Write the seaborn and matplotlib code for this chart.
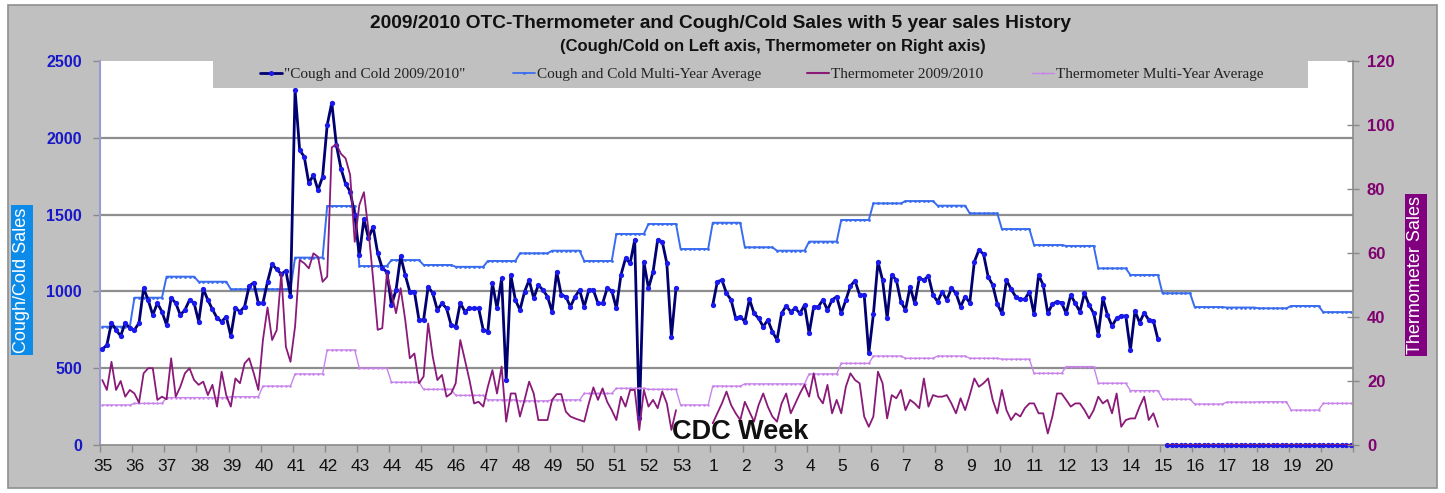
import numpy as np
import matplotlib
matplotlib.use("Agg")
import matplotlib.pyplot as plt
import seaborn as sns
from matplotlib.patches import Rectangle
from matplotlib.lines import Line2D

nan = np.nan

# ---------------- data ----------------
weeks = list(range(35, 54)) + list(range(1, 21))   # CDC weeks, 7 daily points each

# daily Cough and Cold sales 2009/2010 (left axis)
cough_2009 = [
    623, 651, 796, 749, 710, 796, 760,        # 35
    749, 794, 1020, 944, 846, 924, 868,       # 36
    781, 957, 924, 846, 879, 944, 924,        # 37
    803, 1016, 944, 883, 827, 803, 836,       # 38
    710, 892, 868, 901, 1035, 1057, 924,      # 39
    924, 1063, 1178, 1143, 1113, 1135, 970,   # 40
    2311, 1920, 1877, 1704, 1758, 1660, 1747, # 41
    2083, 2229, 1953, 1800, 1700, 1650, 1500, # 42
    1237, 1469, 1347, 1421, 1250, 1150, 1128, # 43
    911, 1009, 1230, 1107, 998, 998, 814,     # 44
    814, 1031, 988, 879, 922, 890, 781,       # 45
    770, 926, 868, 890, 890, 890, 749,        # 46
    738, 1053, 890, 1085, 423, 1107, 944,     # 47
    879, 998, 1074, 955, 1042, 1009, 966,     # 48
    868, 1128, 977, 966, 900, 966, 1009,      # 49
    900, 1009, 1009, 922, 922, 1020, 1005,    # 50
    890, 1107, 1215, 1183, 1335, 174, 1193,   # 51
    1020, 1128, 1335, 1324, 1183, 705, 1020,  # 52
    nan, nan, nan, nan, nan, nan, nan,        # 53
    911, 1063, 1074, 988, 944, 825, 836,      # 1
    803, 949, 857, 825, 770, 814, 738,        # 2
    684, 857, 905, 868, 890, 857, 911,        # 3
    727, 900, 900, 944, 879, 944, 966,        # 4
    857, 944, 1035, 1070, 977, 977, 597,      # 5
    850, 1193, 1074, 825, 1107, 1074, 933,    # 6
    879, 1031, 922, 1085, 1074, 1100, 977,    # 7
    933, 998, 944, 1020, 988, 900, 966,       # 8
    926, 1193, 1270, 1243, 1096, 1042, 918,   # 9
    857, 1074, 1014, 966, 949, 949, 998,      # 10
    853, 1107, 1042, 857, 918, 933, 926,      # 11
    857, 977, 922, 868, 988, 911, 857,        # 12
    716, 955, 846, 775, 825, 840, 840,        # 13
    618, 874, 796, 861, 814, 809, 688,        # 14
    nan, 0, 0, 0, 0, 0, 0,                    # 15
    0, 0, 0, 0, 0, 0, 0,                      # 16
    0, 0, 0, 0, 0, 0, 0,                      # 17
    0, 0, 0, 0, 0, 0, 0,                      # 18
    0, 0, 0, 0, 0, 0, 0,                      # 19
    0, 0, 0, 0, 0, 0, 0,                      # 20
]

# daily Thermometer sales 2009/2010 (right axis)
thermo_2009 = [
    20.3, 17.2, 26.0, 17.2, 20.0, 15.1, 17.2,   # 35
    16.1, 13.2, 22.4, 24.0, 24.0, 14.1, 15.1,   # 36
    14.3, 27.1, 15.1, 18.2, 22.4, 24.0, 20.3,   # 37
    18.8, 19.8, 15.6, 18.8, 12.0, 22.9, 15.6,   # 38
    12.0, 20.8, 19.3, 25.5, 27.1, 22.4, 17.2,   # 39
    32.8, 43.0, 32.8, 35.9, 53.6, 30.7, 26.0,   # 40
    37.0, 57.8, 56.8, 55.2, 59.9, 58.8, 51.0,   # 41
    52.6, 93.0, 94.0, 91.0, 89.6, 84.4, 63.5,   # 42
    75.0, 79.0, 67.0, 52.0, 36.0, 36.5, 53.6,   # 43
    47.4, 41.2, 49.0, 39.1, 27.1, 28.6, 19.3,   # 44
    21.4, 38.0, 27.6, 20.3, 21.9, 15.1, 16.1,   # 45
    19.3, 32.8, 26.6, 20.3, 13.0, 13.5, 12.0,   # 46
    18.2, 23.4, 16.1, 24.5, 7.3, 16.1, 16.1,    # 47
    8.9, 14.1, 19.8, 16.1, 7.8, 7.8, 7.8,       # 48
    14.1, 15.9, 15.9, 10.4, 8.9, 8.3, 7.8,      # 49
    7.3, 13.0, 18.0, 14.1, 17.7, 13.5, 10.9,    # 50
    7.8, 15.1, 12.0, 17.2, 17.2, 4.7, 17.2,     # 51
    12.0, 14.1, 11.5, 16.7, 13.0, 4.7, 10.9,    # 52
    nan, nan, nan, nan, nan, nan, nan,          # 53
    6.8, 9.9, 13.0, 16.7, 12.5, 9.9, 7.8,       # 1
    13.5, 10.4, 7.3, 12.5, 16.1, 12.0, 8.9,     # 2
    7.3, 13.0, 16.1, 9.9, 13.0, 16.1, 18.8,     # 3
    15.1, 22.4, 15.1, 13.0, 18.8, 9.9, 14.1,    # 4
    9.9, 18.2, 22.4, 20.3, 19.3, 8.9, 5.7,      # 5
    8.9, 22.9, 19.3, 8.3, 15.6, 14.6, 17.2,     # 6
    10.9, 14.1, 13.0, 11.5, 20.8, 12.0, 15.6,   # 7
    15.1, 15.1, 15.6, 13.0, 9.9, 14.6, 10.9,    # 8
    15.6, 20.8, 18.2, 19.3, 20.8, 14.1, 9.9,    # 9
    17.2, 10.9, 7.8, 9.9, 8.9, 11.5, 13.0,      # 10
    13.0, 9.9, 9.9, 3.6, 8.9, 16.1, 16.1,       # 11
    14.1, 12.0, 13.0, 13.0, 10.9, 8.3, 10.9,    # 12
    15.1, 13.0, 14.1, 9.9, 16.1, 5.7, 7.8,      # 13
    8.3, 8.3, 12.0, 15.1, 7.8, 9.9, 5.7,        # 14
    nan, 0, 0, 0, 0, 0, 0,                      # 15
    0, 0, 0, 0, 0, 0, 0,                        # 16
    0, 0, 0, 0, 0, 0, 0,                        # 17
    0, 0, 0, 0, 0, 0, 0,                        # 18
    0, 0, 0, 0, 0, 0, 0,                        # 19
    0, 0, 0, 0, 0, 0, 0,                        # 20
]

# weekly multi-year averages (one value per CDC week)
cough_avg_weekly = [770, 959, 1096, 1063, 1014, 1014, 1220, 1556, 1165, 1204,
                    1172, 1160, 1198, 1248, 1265, 1198, 1374, 1439, 1276,
                    1447, 1287, 1265, 1324, 1465, 1573, 1588, 1558, 1508, 1406,
                    1302, 1296, 1150, 1107, 988, 898, 895, 890, 905, 865]
thermo_avg_weekly = [12.5, 13.0, 14.8, 14.8, 15.1, 18.4, 22.2, 29.7, 24.0, 19.6,
                     17.4, 15.5, 14.1, 13.8, 14.1, 16.1, 17.7, 17.4, 12.5,
                     18.4, 19.1, 19.1, 22.2, 25.5, 27.8, 27.1, 27.8, 27.1, 26.8,
                     22.4, 24.5, 19.3, 17.0, 14.3, 12.8, 13.4, 13.5, 10.9, 13.0]

left_ticks = [0, 500, 1000, 1500, 2000, 2500]
right_ticks = [0, 20, 40, 60, 80, 100, 120]
series_labels = ['"Cough and Cold 2009/2010"', 'Cough and Cold Multi-Year Average',
                 'Thermometer 2009/2010', 'Thermometer Multi-Year Average']

# ---------------- style ----------------
sns.set_style("white")
plt.rcParams['font.family'] = ['Liberation Sans', 'DejaVu Sans']

W, H = 1445, 493
fig = plt.figure(figsize=(W / 100, H / 100), dpi=100)
fig.patch.set_facecolor('white')
fig.add_artist(Rectangle((8 / W, 5 / H), 1429 / W, 483 / H, transform=fig.transFigure,
                         facecolor='#c0c0c0', edgecolor='#8f8f8f', lw=1.2, zorder=-5))

ax = fig.add_axes([100 / W, 48 / H, 1253 / W, 384 / H])
ax.set_facecolor('white')
ax2 = ax.twinx()

n_days = 7 * len(weeks)
xpos = np.arange(n_days) + 0.5
cough_avg = np.repeat(cough_avg_weekly, 7).astype(float)
thermo_avg = np.repeat(thermo_avg_weekly, 7).astype(float)


def draw(axis, values, **kw):
    y = np.asarray(values, dtype=float)
    idx = np.where(~np.isnan(y))[0]
    splits = np.where(np.diff(idx) > 1)[0] + 1
    for seg in np.split(idx, splits):
        sns.lineplot(x=xpos[seg], y=y[seg], ax=axis, legend=False, **kw)


C_DARK = '#000070'
C_DARK_M = '#1a1aee'
C_AVG = '#3a6cf0'
C_TH = '#8a1a78'
C_TH_AVG = '#c884ea'

# gridlines
for v in left_ticks[1:-1]:
    ax.axhline(v, color='#8e8e8e', lw=1.6, zorder=0.5)

draw(ax, cough_avg, color=C_AVG, linewidth=1.4, marker='o', markersize=2.0,
     markeredgewidth=0, markerfacecolor=C_AVG, zorder=2)
draw(ax, cough_2009, color=C_DARK, linewidth=2.0, marker='o', markersize=3.8,
     markeredgewidth=0, markerfacecolor=C_DARK_M, zorder=3, clip_on=False)
draw(ax2, thermo_avg, color=C_TH_AVG, linewidth=1.0, marker='o', markersize=1.8,
     markeredgewidth=0, markerfacecolor=C_TH_AVG, zorder=2)
draw(ax2, thermo_2009, color=C_TH, linewidth=1.3, zorder=3)

ax.set_xlim(0, n_days)
ax.set_ylim(0, 2500)
ax2.set_ylim(0, 120)
ax.set_xlabel('')
ax.set_ylabel('')
ax2.set_ylabel('')

# spines
for s in ['top']:
    ax.spines[s].set_visible(False)
    ax2.spines[s].set_visible(False)
ax.spines['right'].set_visible(False)
ax2.spines['left'].set_visible(False)
ax2.spines['bottom'].set_visible(False)
ax.spines['left'].set_color('#9a9ad0')
ax.spines['left'].set_linewidth(1.5)
ax.spines['bottom'].set_color('#8a8a8a')
ax.spines['bottom'].set_linewidth(1.2)
ax2.spines['right'].set_color('#8a8a8a')
ax2.spines['right'].set_linewidth(1.2)

# left axis ticks
ax.set_yticks(left_ticks)
ax.set_yticklabels([str(t) for t in left_ticks], fontweight='bold')
ax.tick_params(axis='y', direction='out', length=5, width=1, color='#8a8a8a',
               labelcolor='#1818c8', labelsize=11.5, pad=8, left=True)
# right axis ticks
ax2.set_yticks(right_ticks)
ax2.set_yticklabels([str(t) for t in right_ticks], fontweight='bold')
ax2.tick_params(axis='y', direction='inout', length=8, width=1, color='#8a8a8a',
                labelcolor='#800070', labelsize=12, pad=6, right=True)

# x axis: tick marks at week boundaries, labels at week starts
ax.set_xticks(np.arange(0, n_days + 1, 7))
ax.set_xticks(np.arange(len(weeks)) * 7 + 0.7, minor=True)
ax.set_xticklabels([], minor=False)
ax.set_xticklabels([str(w) for w in weeks], minor=True)
ax.tick_params(axis='x', which='major', direction='out', length=5, width=1,
               color='#8a8a8a', bottom=True)
ax.tick_params(axis='x', which='minor', length=0, labelsize=12.5, pad=10,
               labelcolor='#111111', bottom=True)

# titles
fig.text(721 / W, 1 - 23 / H,
         '2009/2010 OTC-Thermometer and Cough/Cold Sales with 5 year sales History',
         ha='center', va='center', fontsize=13.8, fontweight='bold', color='#111111')
fig.text(773 / W, 1 - 47 / H, '(Cough/Cold on Left axis, Thermometer on Right axis)',
         ha='center', va='center', fontsize=12, fontweight='bold', color='#111111')

# CDC Week
fig.text(740 / W, 1 - 432 / H, 'CDC Week', ha='center', va='center', fontsize=19.5,
         fontweight='bold', color='#111111', zorder=10)

# axis title boxes
fig.text(22 / W, 1 - 280 / H, 'Cough/Cold Sales', rotation=90, ha='center', va='center',
         fontsize=13, color='white',
         bbox=dict(boxstyle='square,pad=0.12', facecolor='#0d8be8', edgecolor='none'))
fig.text(1416 / W, 1 - 275 / H, 'Thermometer Sales', rotation=90, ha='center', va='center',
         fontsize=13, color='white',
         bbox=dict(boxstyle='square,pad=0.12', facecolor='#800080', edgecolor='none'))

# legend band
fig.add_artist(Rectangle((213 / W, 1 - 88 / H), 1095 / W, 27 / H, transform=fig.transFigure,
                         facecolor='#c0c0c0', edgecolor='none', zorder=5))
handles = [
    Line2D([], [], color=C_DARK, lw=2.0, marker='o', markersize=3.6,
           markeredgewidth=0, markerfacecolor=C_DARK_M),
    Line2D([], [], color=C_AVG, lw=1.3, marker='o', markersize=2.0,
           markeredgewidth=0, markerfacecolor=C_AVG),
    Line2D([], [], color=C_TH, lw=1.5),
    Line2D([], [], color=C_TH_AVG, lw=1.0, marker='o', markersize=1.8,
           markeredgewidth=0, markerfacecolor=C_TH_AVG),
]
leg_x = [260, 513, 807, 1032]
for h, lab, lx in zip(handles, series_labels, leg_x):
    lg = fig.legend([h], [lab], loc='center left', bbox_to_anchor=(lx / W, 1 - 74 / H),
                    frameon=False, borderpad=0, borderaxespad=0, handlelength=1.45,
                    handletextpad=0.1,
                    prop={'family': 'Liberation Serif', 'size': 11}, labelcolor='#222222')
    lg.set_zorder(6)

fig.savefig('out.png', dpi=100, facecolor=fig.get_facecolor())
